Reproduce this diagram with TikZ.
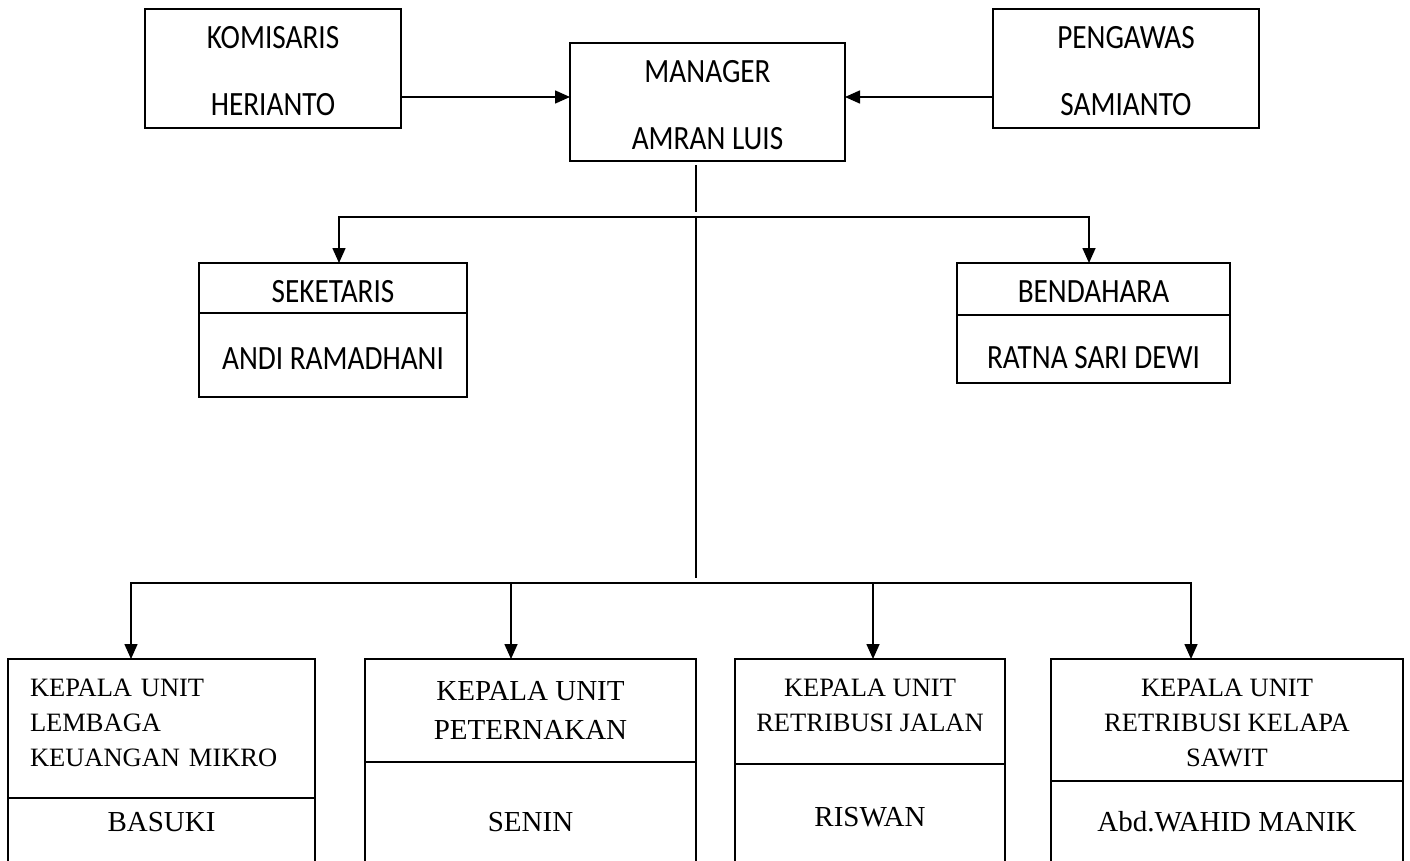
\documentclass[tikz,border=0pt]{standalone}
\usepackage{fontspec}
\usepackage{tikz}
\usetikzlibrary{arrows.meta, positioning}
\newfontfamily\topfont[FakeStretch=0.86]{Carlito}
\newfontfamily\unitfont{Liberation Serif}
\tikzstyle{topbox}   = [rectangle, draw=black, line width=2pt, inner sep=0pt,
                        outer sep=0pt, anchor=north west, align=center,
                        text height=95pt,
                        font=\topfont\fontsize{34}{67}\selectfont]
\tikzstyle{staffbox} = [rectangle, draw=black, line width=2pt, inner sep=0pt,
                        outer sep=0pt, align=center,
                        font=\topfont\fontsize{34}{40}\selectfont]
\tikzstyle{unithead} = [rectangle, draw=black, line width=2pt, inner sep=0pt,
                        outer sep=0pt, anchor=north west, align=center,
                        font=\unitfont\fontsize{26.5}{35}\selectfont]
\tikzstyle{unitname} = [rectangle, draw=black, line width=2pt, inner ysep=0pt,
                        outer sep=0pt, text depth=80pt,
                        font=\unitfont\fontsize{29}{35}\selectfont]
\tikzstyle{line}     = [line width=1.6pt]
\tikzstyle{arrow}    = [line width=1.6pt, -{Triangle[length=15pt,width=13pt]}]

\begin{document}
\begin{tikzpicture}[x=1pt, y=-1pt]
  \clip (0,0) rectangle (1410,861);

  % top row
  \node[topbox, minimum width=256pt, minimum height=119pt] (kom) at (145,9)
        {KOMISARIS\\HERIANTO};
  \node[topbox, minimum width=275pt, minimum height=118pt] (mgr) at (570,43)
        {MANAGER\\AMRAN LUIS};
  \node[topbox, minimum width=266pt, minimum height=119pt] (pgw) at (993,9)
        {PENGAWAS\\SAMIANTO};

  % staff
  \node[staffbox, anchor=north west, minimum width=268pt, minimum height=50pt,
        text height=30pt] (sekH) at (199,263) {SEKETARIS};
  \node[staffbox, minimum width=268pt, minimum height=84pt, text height=28pt,
        below=0pt of sekH] (sekB) {ANDI RAMADHANI};
  \node[staffbox, anchor=north west, minimum width=273pt, minimum height=52pt,
        text height=26pt] (benH) at (957,263) {BENDAHARA};
  \node[staffbox, minimum width=273pt, minimum height=68pt, text height=40pt,
        below=0pt of benH] (benB) {RATNA SARI DEWI};

  % units
  \node[unithead, minimum width=307pt, minimum height=139pt, inner xsep=22pt,
        text width=263pt, align=left, text depth=82pt] (u1h) at (8,659)
        {KEPALA UNIT\\LEMBAGA\\KEUANGAN MIKRO};
  \node[unitname, minimum width=307pt, text height=33pt, below=0pt of u1h]
        (u1n) {BASUKI};
  \node[unithead, minimum width=331pt, minimum height=103pt,
        font=\unitfont\fontsize{29}{39}\selectfont] (u2h) at (365,659)
        {KEPALA UNIT\\PETERNAKAN};
  \node[unitname, minimum width=331pt, text height=69pt, below=0pt of u2h]
        (u2n) {SENIN};
  \node[unithead, minimum width=270pt, minimum height=105pt, text depth=12pt]
        (u3h) at (735,659) {KEPALA UNIT\\RETRIBUSI JALAN};
  \node[unitname, minimum width=270pt, text height=62pt, below=0pt of u3h]
        (u3n) {RISWAN};
  \node[unithead, minimum width=352pt, minimum height=122pt, text height=94pt]
        (u4h) at (1051,659) {KEPALA UNIT\\RETRIBUSI KELAPA\\SAWIT};
  \node[unitname, minimum width=352pt, text height=50pt, below=0pt of u4h]
        (u4n) {Abd.WAHID MANIK};

  \coordinate (komout) at ([yshift=-28.5pt]kom.east);
  \coordinate (pgwout) at ([yshift=-28.5pt]pgw.west);
  \coordinate (trunk)  at ([xshift=-11.5pt,yshift=-4pt]mgr.south);
  \coordinate (bus1)   at (696,217);
  \coordinate (bus2)   at (696,583);

  \draw[arrow] (komout) -- (komout -| mgr.west);
  \draw[arrow] (pgwout) -- (pgwout -| mgr.east);
  \draw[line]  (trunk) -- ([yshift=5pt]bus1);
  \draw[line]  (bus1) -- ([yshift=5pt]bus2);
  \draw[arrow] (bus1) -| ([xshift=6pt]sekH.north);
  \draw[arrow] (bus1) -| ([xshift=-4.5pt]benH.north);
  \draw[arrow] (bus2) -| ([xshift=-30.5pt]u1h.north);
  \draw[arrow] (bus2) -| ([xshift=-19.5pt]u2h.north);
  \draw[arrow] (bus2) -| ([xshift=3pt]u3h.north);
  \draw[arrow] (bus2) -| ([xshift=-36pt]u4h.north);
\end{tikzpicture}
\end{document}
